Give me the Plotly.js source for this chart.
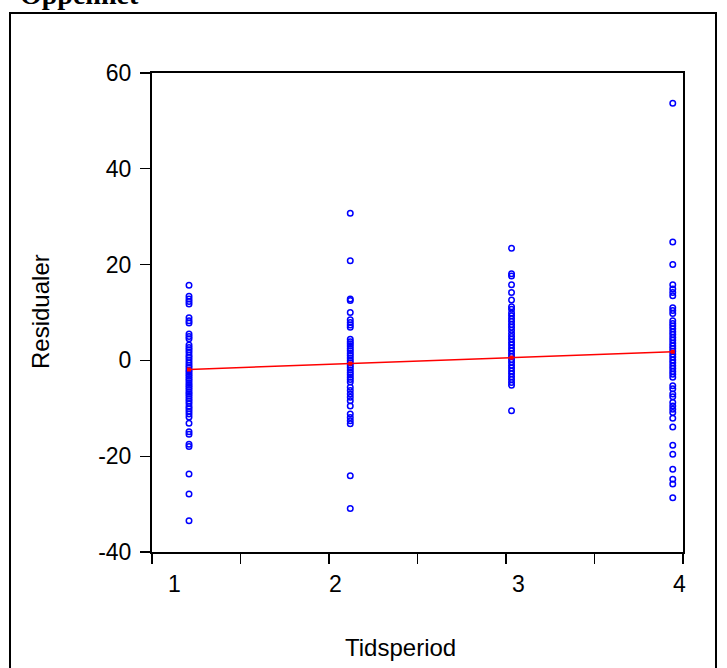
<!DOCTYPE html>
<html><head><meta charset="utf-8">
<script src="https://cdn.plot.ly/plotly-3.0.1.min.js"></script>
<style>html,body{margin:0;padding:0;background:#fff;overflow:hidden;} #chart{width:727px;height:668px;}</style>
</head><body><div id="chart"></div>
<script>
// ---- data ----
const periods = [1, 2, 3, 4];
const resid1 = [15.7, 13.4, 12.8, 12.3, 11.8, 8.9, 8.3, 7.8, 5.5, 5.0, 4.5, 3.2, 2.7, 2.2, 1.7, 1.1, 0.6, 0.1,
  -0.5, -1.0, -1.5, -2.0, -2.4, -2.9, -3.3, -3.8, -4.2, -4.7, -5.2, -5.6, -6.1, -6.6, -7.0, -7.5, -8.0, -8.5,
  -9.0, -9.6, -10.1, -10.6, -11.2, -11.8, -13.1, -14.9, -15.4, -17.5, -18.0, -23.7, -27.9, -33.5];
const resid2 = [30.7, 20.8, 12.8, 12.5, 10.0, 8.5, 7.9, 7.4, 6.9,
  4.4, 3.9, 3.5, 3.0, 2.5, 2.0, 1.5, 1.0, 0.5, 0.0, -0.5, -1.0, -1.5, -2.0, -2.5, -3.0, -3.5, -4.0, -4.5,
  -5.6, -6.3, -7.0, -7.7, -8.4, -9.5, -11.2, -11.9, -12.6, -13.2, -24.1, -30.9];
const resid3 = [23.4, 18.1, 17.6, 15.8, 14.2, 12.6, 11.2, 10.7,
  9.9, 9.3, 8.7, 8.1, 7.5, 6.9, 6.3, 5.6, 5.0, 4.4, 3.8, 3.2, 2.6, 2.0, 1.4, 0.8, 0.2, -0.4, -1.0, -1.6,
  -2.2, -2.8, -3.4, -4.0, -4.6, -5.2, -10.5];
const resid4 = [53.7, 24.7, 20.0, 15.8, 14.9, 14.2, 13.5, 11.0, 10.4, 9.8,
  8.3, 7.7, 7.2, 6.6, 6.0, 5.4, 4.8, 4.2, 3.6, 3.0, 2.5, 1.9, 1.3, 0.7, 0.1, -0.5, -1.1, -1.7, -2.3, -2.9, -3.5,
  -5.3, -5.9, -7.0, -7.6, -8.8, -9.5, -10.2, -10.9, -12.1, -13.9, -17.7, -19.6, -22.7, -24.8, -25.8, -28.7];
const fitX = [1, 2, 3, 4];
const fitY = [-1.9, -0.67, 0.57, 1.8];
const xTickLabels = ['1', '2', '3', '4'];
const xTickLabelPos = [0.913, 1.911, 3.046, 4.044];
const xTickMarks = [0.771, 1.319, 1.868, 2.417, 2.965, 3.514, 4.063];
const yTickVals = [-40, -20, 0, 20, 40, 60];
const yTickText = ['-40', '-20', '0', '20', '40', '60'];
const chartTitle = 'Öppenhet';
const xTitle = 'Tidsperiod';
const yTitle = 'Residualer';

// ---- build traces ----
const groups = [resid1, resid2, resid3, resid4];
const sx = [], sy = [];
groups.forEach((g, i) => g.forEach(v => { sx.push(periods[i]); sy.push(v); }));

const traces = [
  { type: 'scatter', mode: 'markers', x: sx, y: sy, cliponaxis: false,
    marker: { symbol: 'circle-open', size: 5.5, color: '#0000ff', line: { width: 1.5, color: '#0000ff' } },
    hoverinfo: 'skip', showlegend: false },
  { type: 'scatter', mode: 'lines+markers', x: fitX, y: fitY,
    line: { color: '#ff0000', width: 1.5 },
    marker: { symbol: 'square', size: 4, color: '#ff0000' },
    hoverinfo: 'skip', showlegend: false }
];

const L = 152, R = 683, T = 73, B = 552, W = 727, H = 668;
const pw = R - L, ph = B - T;
const px = v => (v - L) / pw;
const py = v => (B - v) / ph;

const annotations = xTickLabels.map((t, i) => ({
  text: t, x: xTickLabelPos[i], xref: 'x', y: py(584), yref: 'paper',
  xanchor: 'center', yanchor: 'middle', showarrow: false,
  font: { family: 'Liberation Sans, Arial, sans-serif', size: 23, color: '#000' }
}));
annotations.push({
  text: '<b>' + chartTitle + '</b>', x: px(18), xref: 'paper', y: py(12), yref: 'paper',
  xanchor: 'left', yanchor: 'bottom', showarrow: false,
  font: { family: 'Liberation Serif, Times New Roman, serif', size: 28, color: '#000' }
});
annotations.push({
  text: xTitle, x: px(400), xref: 'paper', y: py(647), yref: 'paper',
  xanchor: 'center', yanchor: 'middle', showarrow: false,
  font: { family: 'Liberation Sans, Arial, sans-serif', size: 24, color: '#000' }
});
annotations.push({
  text: yTitle, x: px(40), xref: 'paper', y: py(312), yref: 'paper', textangle: -90,
  xanchor: 'center', yanchor: 'middle', showarrow: false,
  font: { family: 'Liberation Sans, Arial, sans-serif', size: 24, color: '#000' }
});

const layout = {
  width: W, height: H,
  margin: { l: L, r: W - R, t: T, b: H - B, pad: 0 },
  paper_bgcolor: '#fff', plot_bgcolor: '#fff',
  showlegend: false,
  xaxis: {
    range: [0.7705, 4.0635], tickmode: 'array', tickvals: xTickMarks, ticktext: xTickMarks.map(() => ''),
    ticks: 'outside', ticklen: 10, tickwidth: 1.3, tickcolor: '#000',
    showline: true, linecolor: '#000', linewidth: 2, mirror: true,
    showgrid: false, zeroline: false, fixedrange: true
  },
  yaxis: {
    range: [-40, 60], tickmode: 'array', tickvals: yTickVals, ticktext: yTickText,
    ticks: 'outside', ticklen: 10, tickwidth: 1.3, tickcolor: '#000', ticklabelstandoff: 4,
    tickfont: { family: 'Liberation Sans, Arial, sans-serif', size: 23, color: '#000' },
    showline: true, linecolor: '#000', linewidth: 2, mirror: true,
    showgrid: false, zeroline: false, fixedrange: true
  },
  shapes: [{
    type: 'rect', xref: 'paper', yref: 'paper',
    x0: px(10), x1: px(716), y0: py(700), y1: py(13),
    line: { color: '#000', width: 2 }, fillcolor: 'rgba(0,0,0,0)', layer: 'below'
  }],
  annotations: annotations
};

Plotly.newPlot('chart', traces, layout, { staticPlot: true, displayModeBar: false });
</script>
</body></html>
